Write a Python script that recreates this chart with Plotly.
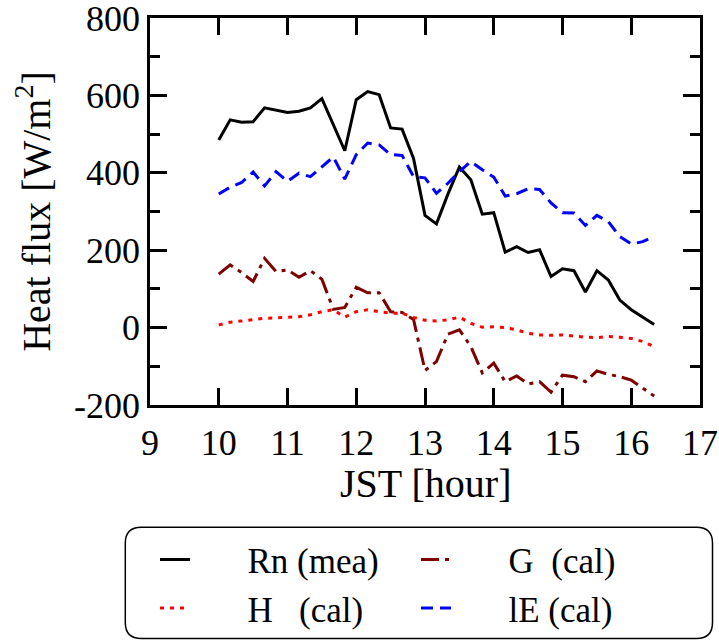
import plotly.graph_objects as go

# time axis: 10:00 to 16:20 every 10 min (hours)
jst = [10 + i / 6 for i in range(39)]

rn = [485, 537, 531, 532, 568, 561, 556, 559, 568, 592, 524, 457, 589, 610, 602, 516, 513, 437,
      290, 268, 345, 415, 382, 293, 297, 195, 209, 194, 201, 132, 152, 147, 92, 147, 123, 71, 46, 28, 8]
g = [138, 162, 142, 119, 179, 145, 149, 130, 147, 125, 47, 52, 104, 90, 90, 41, 39, 21,
     -111, -88, -17, -6, -49, -117, -92, -140, -125, -146, -140, -167, -123, -127, -140, -112, -121, -127, -136, -157, -177]
h = [7, 14, 17, 20, 24, 25, 27, 28, 33, 41, 46, 27, 41, 46, 41, 37, 37, 26,
     19, 17, 20, 27, 11, 1, 2, 0, -6, -15, -19, -20, -19, -22, -25, -26, -23, -25, -28, -36, -49]
le = [345, 363, 375, 402, 366, 403, 378, 399, 390, 416, 441, 384, 447, 477, 472, 447, 445, 390,
      387, 347, 373, 403, 429, 408, 389, 340, 346, 359, 357, 322, 297, 296, 264, 290, 274, 235, 216, 222, 236]

y_ticks = [-200, 0, 200, 400, 600, 800]
y_labels = ["-200", "0", "200", "400", "600", "800"]
x_ticks = [9, 10, 11, 12, 13, 14, 15, 16, 17]
x_labels = ["9", "10", "11", "12", "13", "14", "15", "16", "17"]

names = ["Rn (mea)", "G\u00a0\u00a0(cal)", "H\u00a0\u00a0\u00a0(cal)", "lE (cal)"]
colors = ["black", "#7f0000", "red", "blue"]
dashes = ["solid", "18px,6px,4px,6px", "4px,6px", "12px,7px"]
series = [rn, g, h, le]

FONT = "Liberation Serif"
pad = "\u00a0" * 6

fig = go.Figure()
for name, col, dsh, ys in zip(names, colors, dashes, series):
    fig.add_trace(go.Scatter(x=jst, y=ys, mode="lines", name=pad + name,
                             line=dict(color=col, width=3, dash=dsh)))

# rounded legend frame
x0, x1 = (125 - 149.7) / 549.8, (712 - 149.7) / 549.8
y0, y1 = (404.9 - 638) / 386.5, (404.9 - 527) / 386.5
rx, ry = 16 / 549.8, 16 / 386.5
path = (f"M{x0+rx},{y1} L{x1-rx},{y1} Q{x1},{y1} {x1},{y1-ry} L{x1},{y0+ry} Q{x1},{y0} {x1-rx},{y0} "
        f"L{x0+rx},{y0} Q{x0},{y0} {x0},{y0+ry} L{x0},{y1-ry} Q{x0},{y1} {x0+rx},{y1} Z")
fig.add_shape(type="path", xref="paper", yref="paper", path=path,
              line=dict(color="black", width=1.5))

# x-axis title as annotation
fig.add_annotation(text="JST [hour]", xref="paper", yref="paper", x=0.5,
                   y=(404.9 - 483) / 386.5, xanchor="center", yanchor="middle",
                   showarrow=False, font=dict(family=FONT, size=40, color="black"))

axis_common = dict(showline=True, linecolor="black", linewidth=2.5, mirror="ticks",
                   ticks="inside", ticklen=17, tickwidth=2.5, tickcolor="black",
                   showgrid=False, zeroline=False, ticklabeloverflow="allow",
                   tickfont=dict(family=FONT, size=36, color="black"))

fig.update_xaxes(range=[9, 17], tickmode="array", tickvals=x_ticks, ticktext=x_labels,
                 ticklabelstandoff=4, **axis_common)
fig.update_yaxes(range=[-200.2, 800.2], tickmode="array", tickvals=y_ticks, ticktext=y_labels,
                 minor=dict(tickmode="array", tickvals=[-100, 100, 300, 500, 700],
                            ticks="inside", ticklen=10, tickwidth=2.5, tickcolor="black"),
                 title=dict(text="Heat flux [W/m<sup>2</sup>]", font=dict(family=FONT, size=40, color="black"), standoff=12),
                 **axis_common)

fig.update_layout(
    width=719, height=640,
    margin=dict(l=150, r=19, t=18, b=235, autoexpand=False),
    plot_bgcolor="white", paper_bgcolor="white",
    font=dict(family=FONT, color="black"),
    legend=dict(orientation="h", x=5 / 549.8, y=(404.9 - 530) / 386.5, xanchor="left", yanchor="top",
                font=dict(family=FONT, size=35, color="black"),
                entrywidth=216, bgcolor="rgba(0,0,0,0)", borderwidth=0,
                tracegroupgap=0, itemwidth=30),
)

fig.write_html("out.html")
